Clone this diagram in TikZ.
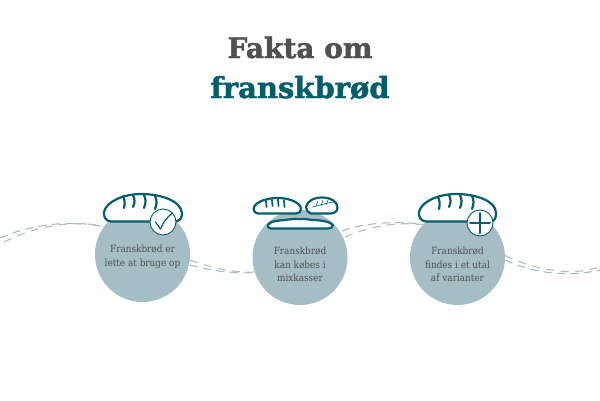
\documentclass[tikz,border=0pt]{standalone}
\usepackage{fontspec}
\setmainfont{DejaVu Serif Condensed}
\newfontfamily\titlefont[FakeBold=1.6]{DejaVu Serif Bold}
\definecolor{teal1}{HTML}{005F6B}
\definecolor{greyt}{HTML}{505052}
\definecolor{disc}{HTML}{A5BEC6}
\definecolor{wblue}{HTML}{A2BDC6}
\definecolor{wbeige}{HTML}{BDBDAC}
\tikzset{
  x=1pt,y=-1pt,
  disc/.style={circle,fill=disc,minimum size=95pt,inner sep=0pt},
  body/.style={text=greyt,font=\fontsize{9.9}{13.5}\selectfont,align=center,inner sep=0pt},
  badge/.style={circle,fill=white,draw=teal1,line width=.9pt,minimum size=26pt,inner sep=0pt},
  loaf/.style={fill=white,draw=teal1,line width=2.2pt,line join=round},
  slash/.style={draw=teal1,line width=2.2pt,line cap=round},
  markline/.style={draw=teal1,line cap=round},
  wb/.style={draw=wblue,line width=1.1pt,dash pattern=on 8pt off 5.5pt},
  wc/.style={draw=wbeige,line width=1.1pt,dash pattern=on 8pt off 6.5pt},
  ttl/.style={inner sep=0pt,anchor=base}
}
\begin{document}
\begin{tikzpicture}
\useasboundingbox (0,0) rectangle (600,400);
\fill[white] (0,0) rectangle (600,400);
\node[ttl,text=greyt,font=\titlefont\fontsize{28}{30}\selectfont] (t1) at (300,58) {Fakta om};
\node[ttl,text=teal1,font=\titlefont\fontsize{29}{30}\selectfont] (t2) at (300,98) {franskbrød};
% coordinates of the wave
\coordinate (a0) at (0,238); \coordinate (a1) at (105,227);
\coordinate (b0) at (4,242); \coordinate (b1) at (103,226);
\coordinate (c0) at (190,265); \coordinate (c1) at (255,272.5);
\coordinate (d0) at (190,260); \coordinate (d1) at (255,272);
\coordinate (e0) at (342,231); \coordinate (e1) at (425,224.5);
\coordinate (f0) at (345,237); \coordinate (f1) at (425,225);
\coordinate (g0) at (505,260); \coordinate (g1) at (600,270);
\coordinate (h0) at (505,255.5); \coordinate (h1) at (600,267);
\draw[wb] (a0) .. controls (30,225) and (70,219) .. (a1);
\draw[wc] (b0) .. controls (35,226) and (70,220) .. (b1);
\draw[wb] (c0) .. controls (210,270) and (230,274) .. (c1);
\draw[wc] (d0) .. controls (210,267) and (230,273) .. (d1);
\draw[wb] (e0) .. controls (365,222) and (400,221) .. (e1);
\draw[wc] (f0) .. controls (368,227) and (395,221) .. (f1);
\draw[wb] (g0) .. controls (530,272) and (565,278) .. (g1);
\draw[wc] (h0) .. controls (530,267) and (565,278) .. (h1);
% discs
\node[disc] (c1n) at (142.5,254.5) {};
\node[disc] (c2n) at (300,257.5) {};
\node[disc] (c3n) at (457.5,257.5) {};
\node[body] (l1) at (142.5,257) {Franskbrød er\\lette at bruge op};
\node[body] (l2) at (300,264.5) {Franskbrød\\kan købes i\\mixkasser};
\node[body] (l3) at (457.5,264.5) {Franskbrød\\findes i et utal\\af varianter};
% loaf 1
\begin{scope}[shift={(103,193)}]
\draw[loaf] (8,28.5) .. controls (2,28) and (0.5,23) .. (1,19)
  .. controls (3,9) and (20,1) .. (38,1)
  .. controls (58,1) and (78,8) .. (79,20)
  .. controls (79,25) and (77,28) .. (72,28.5) -- cycle;
\draw[slash] (20,3) .. controls (22,7) and (22,11) .. (21,15);
\draw[slash] (30,2) .. controls (32,6) and (32,10) .. (30,14);
\draw[slash] (41,2) .. controls (43,6) and (43,10) .. (41,15);
\draw[slash] (52,3) .. controls (54,7) and (54,11) .. (52,16);
\end{scope}
\node[badge] (b1n) at (163,222) {};
\draw[markline,line width=1.2pt] (155.5,222) -- (160.5,229);
\draw[markline,line width=1.2pt] (160.5,229) .. controls (163,223) and (166,218) .. (172,213.5);
% loaf 3
\begin{scope}[shift={(418,193)}]
\draw[loaf] (8,28.5) .. controls (2,28) and (0.5,23) .. (1,19)
  .. controls (3,9) and (20,1) .. (38,1)
  .. controls (58,1) and (78,8) .. (78,20)
  .. controls (78,25) and (77,28) .. (72,28.5) -- cycle;
\draw[slash] (20,4) .. controls (22,8) and (22,12) .. (21,16);
\draw[slash] (31,2) .. controls (33,6) and (33,10) .. (31,14);
\draw[slash] (42,2) .. controls (44,6) and (44,10) .. (42,15);
\draw[slash] (54,3) .. controls (56,7) and (56,11) .. (54,16);
\end{scope}
\node[badge] (b3n) at (480,223) {};
\draw[markline,line width=2pt] (470,223) -- (490,223);
\draw[markline,line width=2pt] (480,213) -- (480,233);
% middle loaves
\draw[loaf] (258,213.5) .. controls (254,213) and (253,209) .. (254,207)
  .. controls (257,201) and (268,198) .. (278,198)
  .. controls (290,198) and (301,203) .. (301,209)
  .. controls (301,212) and (299,213.5) .. (296,213.5) -- cycle;
\draw[slash,line width=1.7pt] (266,201) -- (266.5,207);
\draw[slash,line width=1.7pt] (272,200) -- (272.5,206);
\draw[slash,line width=1.7pt] (278,199.5) -- (278.5,206);
\draw[slash,line width=1.7pt] (284,200.5) -- (284.5,207);
\draw[loaf] (311,213.5) .. controls (308,213) and (306,210) .. (306,207)
  .. controls (307,201) and (314,197.5) .. (322,197.5)
  .. controls (331,197.5) and (338,202) .. (337.5,208)
  .. controls (337,212) and (334,213.5) .. (331,213.5) -- cycle;
\draw[draw=teal1,line width=.6pt,line cap=round] (312,207) .. controls (318,206) and (326,203) .. (333,202);
\draw[draw=teal1,line width=.6pt,line cap=round] (318,201) -- (316,206);
\draw[draw=teal1,line width=.6pt,line cap=round] (323,200) -- (321,206);
\draw[draw=teal1,line width=.6pt,line cap=round] (328,200) -- (326,205);
\draw[loaf] (271,228.5) .. controls (268,228) and (267,226) .. (268,224.5)
  .. controls (271,221) and (278,220.5) .. (285,220)
  .. controls (290,219) and (292,219.5) .. (295,218.8)
  .. controls (298,220) and (301,218.5) .. (304,219)
  .. controls (308,218.5) and (310,220.5) .. (315,220)
  .. controls (322,220.5) and (331,222) .. (333,225)
  .. controls (333,227) and (331,228.5) .. (328,228.5) -- cycle;
\end{tikzpicture}
\end{document}
